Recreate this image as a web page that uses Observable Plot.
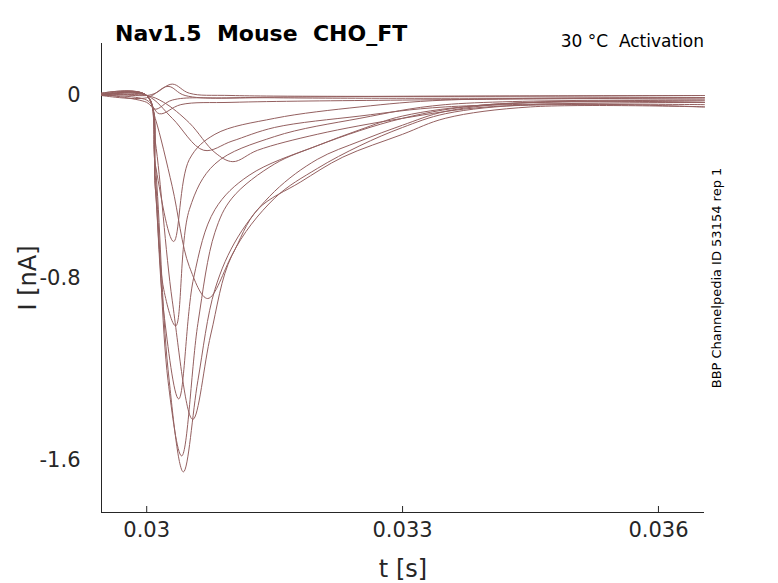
<!DOCTYPE html>
<html><head><meta charset="utf-8">
<script src="https://cdn.jsdelivr.net/npm/d3@7"></script>
<script src="https://cdn.jsdelivr.net/npm/@observablehq/plot@0.6"></script>
<style>body{margin:0;background:#fff;font-family:"DejaVu Sans",sans-serif}</style>
</head><body><div id="c"></div>
<script>
// time in ms, current in nA
const trace1 = [[29.47,0],[30.0,0],[30.1,-0.3],[30.25,-1.2],[30.43,-1.65],[30.6,-1.25],[30.8,-0.85],[31.07,-0.62],[31.5,-0.42],[32.0,-0.28],[32.5,-0.2],[33.0,-0.13],[33.5,-0.07],[34.5,-0.03],[36.54,-0.03]];
const trace2 = [[29.47,0.01],[30.0,0],[30.1,-0.35],[30.25,-1.25],[30.41,-1.58],[30.6,-1.0],[30.8,-0.6],[31.0,-0.45],[31.5,-0.3],[32.0,-0.22],[32.5,-0.15],[33.0,-0.09],[34.0,-0.04],[36.54,-0.02]];
const trace3 = [[29.47,0],[30.0,0],[30.1,-0.2],[30.3,-0.9],[30.54,-1.42],[30.75,-1.05],[31.0,-0.7],[31.5,-0.45],[32.0,-0.32],[32.5,-0.22],[33.0,-0.14],[33.5,-0.08],[34.5,-0.04],[36.54,-0.05]];
const trace4 = [[29.47,0.005],[30.0,0],[30.1,-0.4],[30.2,-0.95],[30.375,-1.33],[30.55,-0.8],[30.8,-0.5],[31.2,-0.35],[32.0,-0.22],[33.0,-0.1],[34.0,-0.04],[36.54,-0.03]];
const trace5 = [[29.47,0],[30.0,0],[30.1,-0.4],[30.2,-0.85],[30.34,-1.01],[30.5,-0.5],[30.8,-0.3],[31.5,-0.18],[32.5,-0.1],[33.5,-0.04],[36.54,-0.02]];
const trace6 = [[29.47,0],[30.0,0],[30.1,-0.1],[30.3,-0.4],[30.5,-0.75],[30.715,-0.89],[31.0,-0.7],[31.3,-0.5],[31.8,-0.38],[32.3,-0.27],[33.0,-0.17],[33.5,-0.1],[34.5,-0.05],[36.54,-0.05]];
const trace7 = [[29.47,0.01],[30.0,0],[30.1,-0.3],[30.316,-0.64],[30.5,-0.28],[30.8,-0.17],[31.5,-0.1],[32.5,-0.05],[33.5,-0.02],[36.54,-0.01]];
const trace8 = [[29.47,0],[30.0,0],[30.2,-0.03],[30.5,-0.12],[30.8,-0.25],[31.01,-0.29],[31.3,-0.24],[32.0,-0.17],[33.0,-0.1],[34.0,-0.05],[36.54,-0.04]];
const trace9 = [[29.47,0.005],[30.0,0],[30.3,-0.1],[30.668,-0.24],[31.0,-0.2],[31.5,-0.14],[32.5,-0.09],[33.5,-0.05],[36.54,-0.03]];
const trace10 = [[29.47,0],[30.0,-0.02],[30.15,-0.08],[30.4,-0.04],[31.0,-0.03],[33.0,-0.02],[36.54,-0.01]];
const trace11 = [[29.47,0.01],[30.0,0],[30.1,0.01],[30.3,0.05],[30.5,0.01],[31.0,0],[36.54,0.0]];
const trace12 = [[29.47,0],[30.0,-0.01],[30.25,0.04],[30.45,0.0],[31.5,-0.01],[36.54,-0.01]];
const trace13 = [[29.47,0.005],[30.0,-0.03],[30.1,-0.06],[30.3,-0.02],[31.0,-0.01],[36.54,0.0]];
const traces = [trace1,trace2,trace3,trace4,trace5,trace6,trace7,trace8,trace9,trace10,trace11,trace12,trace13];
const xTicks = [0.030, 0.033, 0.036];
const yTicks = [0, -0.8, -1.6];
const yTickLabels = ["0", "-0.8", "-1.6"];

const rows = traces.flatMap((tr, k) => tr.map(([t, i]) => ({k, t: t / 1000, i})));
const col = "#946060";
const plot = Plot.plot({
  width: 778, height: 583,
  marginLeft: 101, marginRight: 74, marginTop: 43, marginBottom: 71,
  style: {fontFamily: "DejaVu Sans", color: "#262626", fontSize: "21px"},
  x: {domain: [0.02947, 0.03654]},
  y: {domain: [-1.828, 0.228]},
  marks: [
    Plot.axisX({ticks: xTicks, tickFormat: d => String(+d.toFixed(3)), label: null, tickSize: -6, tickPadding: 16, fontSize: 21}),
    Plot.axisY({ticks: yTicks, tickFormat: d => yTickLabels[yTicks.indexOf(d)], label: null, tickSize: 0, tickPadding: 21, fontSize: 21}),
    Plot.ruleX([0.02947], {stroke: "#262626"}),
    Plot.ruleY([-1.828], {stroke: "#262626"}),
    Plot.line(rows, {x: "t", y: "i", z: "k", stroke: col, strokeWidth: 1, curve: "catmull-rom"})
  ]
});
const svg = d3.select(plot);
const add = () => svg.append("text").attr("fill", "#000").attr("text-anchor", "start");
add().attr("x", 115).attr("y", 41).attr("font-size", 22).attr("font-weight", "bold").text("Nav1.5  Mouse  CHO_FT");
add().attr("x", 704).attr("y", 47).attr("text-anchor", "end").attr("font-size", 17).text("30 °C  Activation");
add().attr("transform", "translate(721,278) rotate(-90)").attr("text-anchor", "middle").attr("font-size", 13).text("BBP Channelpedia ID 53154 rep 1");
add().attr("x", 403).attr("y", 577).attr("text-anchor", "middle").attr("font-size", 24).attr("fill", "#262626").text("t [s]");
add().attr("transform", "translate(36,278) rotate(-90)").attr("text-anchor", "middle").attr("font-size", 24).attr("fill", "#262626").text("I [nA]");
document.getElementById("c").appendChild(plot);
</script></body></html>
